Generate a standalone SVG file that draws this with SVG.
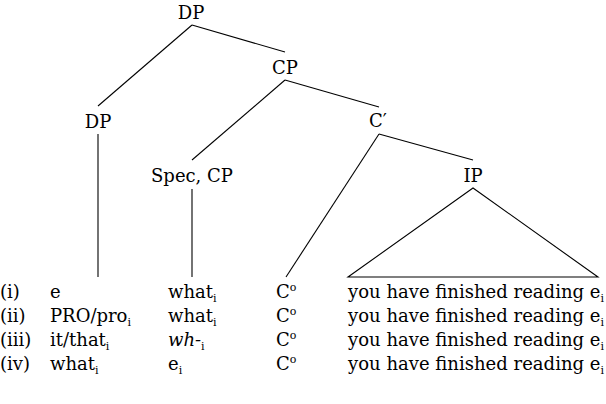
<svg xmlns="http://www.w3.org/2000/svg" width="606" height="404" viewBox="0 0 606 404">
<style>
text{font-family:"DejaVu Serif","Liberation Serif",serif;font-size:18px;fill:#000}
.lbl{text-anchor:middle}
.sub{font-size:11px}
.sup{font-size:11px}
.conn line,.conn polygon{stroke:#000;stroke-width:1.1;fill:none}
</style>
<rect width="606" height="404" fill="#fff"/>
<g id="connectors" class="conn">
<line x1="192" y1="25" x2="98" y2="106"/>
<line x1="192" y1="25" x2="285" y2="52"/>
<line x1="285" y1="80" x2="192" y2="160"/>
<line x1="285" y1="80" x2="379" y2="107"/>
<line x1="98" y1="134" x2="98" y2="277"/>
<line x1="192" y1="189" x2="192" y2="277"/>
<line x1="379" y1="134" x2="286" y2="277"/>
<line x1="379" y1="134" x2="473" y2="160"/>
<polygon points="473,188 348,277 598,277"/>
</g>
<g id="node-dp-top"><text class="lbl" x="191" y="19">DP</text></g>
<g id="node-cp"><text class="lbl" x="285" y="74">CP</text></g>
<g id="node-dp-left"><text class="lbl" x="98" y="128">DP</text></g>
<g id="node-spec-cp"><text class="lbl" x="192" y="182">Spec, CP</text></g>
<g id="node-cbar"><text class="lbl" x="378" y="127">C′</text></g>
<g id="node-ip"><text class="lbl" x="473" y="182">IP</text></g>
<g id="rows">
<text x="0" y="298">(i)</text>
<text x="50" y="298">e</text>
<text x="168" y="298">what<tspan class="sub" dy="4">i</tspan></text>
<text x="276" y="298">C<tspan class="sup" dy="-7">o</tspan></text>
<text x="348" y="298" textLength="256" lengthAdjust="spacing">you have finished reading e<tspan class="sub" dy="4">i</tspan></text>

<text x="0" y="322">(ii)</text>
<text x="50" y="322">PRO/pro<tspan class="sub" dy="4">i</tspan></text>
<text x="168" y="322">what<tspan class="sub" dy="4">i</tspan></text>
<text x="276" y="322">C<tspan class="sup" dy="-7">o</tspan></text>
<text x="348" y="322" textLength="256" lengthAdjust="spacing">you have finished reading e<tspan class="sub" dy="4">i</tspan></text>

<text x="0" y="346">(iii)</text>
<text x="50" y="346">it/that<tspan class="sub" dy="4">i</tspan></text>
<text x="168" y="346"><tspan font-style="italic">wh-</tspan><tspan class="sub" dy="4">i</tspan></text>
<text x="276" y="346">C<tspan class="sup" dy="-7">o</tspan></text>
<text x="348" y="346" textLength="256" lengthAdjust="spacing">you have finished reading e<tspan class="sub" dy="4">i</tspan></text>

<text x="0" y="370">(iv)</text>
<text x="50" y="370">what<tspan class="sub" dy="4">i</tspan></text>
<text x="168" y="370">e<tspan class="sub" dy="4">i</tspan></text>
<text x="276" y="370">C<tspan class="sup" dy="-7">o</tspan></text>
<text x="348" y="370" textLength="256" lengthAdjust="spacing">you have finished reading e<tspan class="sub" dy="4">i</tspan></text>
</g>
</svg>
